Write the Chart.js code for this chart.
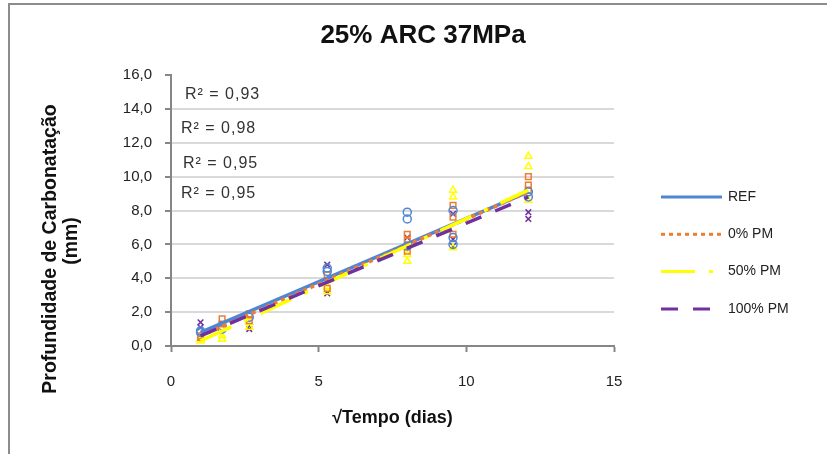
<!DOCTYPE html>
<html lang="pt">
<head>
<meta charset="utf-8">
<title>25% ARC 37MPa</title>
<script src="https://cdn.jsdelivr.net/npm/chart.js@4/dist/chart.umd.min.js"></script>
<style>
  html, body { margin: 0; padding: 0; background: #fff; }
  #quadro { position: relative; width: 827px; height: 454px; overflow: hidden; }
  #moldura { position: absolute; left: 8px; top: 3px; width: 900px; height: 500px;
             border-top: 2px solid #8c8c8c; border-left: 2px solid #8c8c8c; pointer-events: none; }
  canvas { position: absolute; left: 0; top: 0; }
</style>
</head>
<body>
<div id="quadro">
  <canvas id="grafico" width="827" height="454"></canvas>
  <div id="moldura"></div>
</div>
<script>
// raiz do tempo de exposição (dias)
const tempoRaiz = [1, 1.73, 2.65, 5.29, 8, 9.55, 12.1];

// profundidades medidas (mm), leituras por idade
const profREF = [[0.9, 0.8], [1.2, 1.0], [1.7], [4.6, 4.4], [7.9, 7.5, 5.9], [8.0, 6.4, 6.0], [9.1, 8.8]];
const prof0PM = [[0.6, 0.5], [1.6, 1.3], [1.9, 1.5], [4.2, 3.4], [6.6, 6.2, 5.6], [8.3, 7.6, 6.6], [10.0, 9.5, 9.2]];
const prof50PM = [[0.4, 0.3], [0.6, 0.4], [1.4, 1.1], [3.5, 3.2], [5.4, 5.0], [9.2, 8.8, 5.8], [11.2, 10.6, 8.6]];
const prof100PM = [[1.4, 1.1], [1.3], [1.2, 1.0], [4.8, 3.1], [6.4, 6.0], [7.8, 6.3, 5.9], [7.9, 7.5]];

// linhas de tendência (extremos)
const tendX = [1, 12.1];
const tendREF = [0.8, 9.1];
const tend0PM = [0.6, 9.1];
const tend50PM = [0.3, 9.2];
const tend100PM = [0.6, 8.8];

const series = ["REF", "0% PM", "50% PM", "100% PM"];
const valoresR2 = ["0,93", "0,98", "0,95", "0,95"];

const cores = ["#4f86d3", "#ed7d31", "#ffff00", "#7030a0"];
const FONTE = "'Liberation Sans', Arial, sans-serif";

function pontos(leituras) {
  const lista = [];
  leituras.forEach((grupo, i) => {
    grupo.forEach(v => lista.push({ x: tempoRaiz[i], y: v }));
  });
  return lista;
}

function reta(ys) {
  return tendX.map((x, i) => ({ x: x, y: ys[i] }));
}

const estilosPonto = ["circle", "rect", "triangle", "crossRot"];
const medidas = [profREF, prof0PM, prof50PM, prof100PM];
const tendencias = [tendREF, tend0PM, tend50PM, tend100PM];
const tracejados = [[], [4, 4], [34, 14, 4, 14], [17, 15]];

const datasets = [];
medidas.forEach((m, i) => {
  datasets.push({
    label: series[i] + " medidas",
    data: pontos(m),
    showLine: false,
    pointStyle: estilosPonto[i],
    pointRadius: 4,
    pointBorderWidth: 1.5,
    pointBorderColor: cores[i],
    pointBackgroundColor: "rgba(0,0,0,0)",
    borderColor: cores[i],
    order: 10 + i,
    legenda: false
  });
});
tendencias.forEach((t, i) => {
  datasets.push({
    label: series[i],
    data: reta(t),
    showLine: true,
    pointRadius: 0,
    borderColor: cores[i],
    borderWidth: 3.5,
    borderDash: tracejados[i],
    order: 3 - i,
    legenda: true
  });
});

// título e título do eixo vertical
const titulos = {
  id: "titulos",
  afterDraw(chart) {
    const ctx = chart.ctx;
    ctx.save();
    ctx.fillStyle = "#111";
    ctx.textAlign = "center";
    ctx.textBaseline = "middle";
    ctx.font = "bold 26px " + FONTE;
    ctx.fillText("25% ARC 37MPa", 423, 36);
    ctx.font = "bold 19.5px " + FONTE;
    ctx.translate(51, 249);
    ctx.rotate(-Math.PI / 2);
    ctx.fillText("Profundidade de Carbonatação", 0, 0);
    ctx.fillText("(mm)", 8, 21);
    ctx.restore();
  }
};

// legenda desenhada à direita da área do gráfico
const legendaLateral = {
  id: "legendaLateral",
  afterDraw(chart) {
    const ctx = chart.ctx;
    ctx.save();
    ctx.font = "14px " + FONTE;
    ctx.textBaseline = "middle";
    ctx.fillStyle = "#222";
    let y = 197;
    chart.data.datasets.filter(d => d.legenda).forEach(d => {
      ctx.strokeStyle = d.borderColor;
      ctx.lineWidth = 3;
      ctx.setLineDash(d.borderDash);
      ctx.beginPath();
      ctx.moveTo(661, y);
      ctx.lineTo(722, y);
      ctx.stroke();
      ctx.setLineDash([]);
      ctx.fillText(d.label, 728, y);
      y += 37.3;
    });
    ctx.restore();
  }
};

// coeficientes de determinação das tendências
const rotulosR2 = {
  id: "rotulosR2",
  afterDraw(chart) {
    const ctx = chart.ctx;
    const posicoes = [[185, 95], [181, 129], [183, 164], [181, 194]];
    ctx.save();
    ctx.font = "16px " + FONTE;
    ctx.fillStyle = "#333";
    ctx.textBaseline = "middle";
    if ("letterSpacing" in ctx) ctx.letterSpacing = "1px";
    valoresR2.forEach((v, i) => {
      ctx.fillText("R² = " + v, posicoes[i][0], posicoes[i][1]);
    });
    ctx.restore();
  }
};

new Chart(document.getElementById("grafico"), {
  type: "scatter",
  data: { datasets: datasets },
  plugins: [titulos, legendaLateral, rotulosR2],
  options: {
    responsive: false,
    animation: false,
    layout: { padding: { left: 0, right: 213, top: 75, bottom: 0 } },
    plugins: {
      legend: { display: false },
      tooltip: { enabled: false },
      title: { display: false }
    },
    scales: {
      x: {
        type: "linear",
        min: 0,
        max: 15,
        ticks: { stepSize: 5, color: "#222", padding: 21, font: { family: FONTE, size: 15 } },
        grid: { drawOnChartArea: false, drawTicks: true, tickLength: 6, tickColor: "#868686", tickWidth: 2 },
        border: { color: "#868686", width: 2 },
        title: {
          display: true,
          text: "√Tempo (dias)",
          color: "#111",
          font: { family: FONTE, size: 18, weight: "bold" },
          padding: { top: 8, bottom: 25 }
        },
        afterFit(scale) { scale.height = 108; }
      },
      y: {
        min: 0,
        max: 16,
        ticks: {
          stepSize: 2,
          color: "#222",
          padding: 13,
          font: { family: FONTE, size: 15 },
          callback: v => v.toFixed(1).replace(".", ",")
        },
        grid: {
          color: c => (c.tick && c.tick.value === 16 ? "rgba(0,0,0,0)" : "#d9d9d9"),
          lineWidth: 2,
          tickLength: 6,
          tickColor: "#868686",
          tickWidth: 2
        },
        border: { color: "#868686", width: 2 },
        afterFit(scale) { scale.width = 171; }
      }
    }
  }
});
</script>
</body>
</html>
